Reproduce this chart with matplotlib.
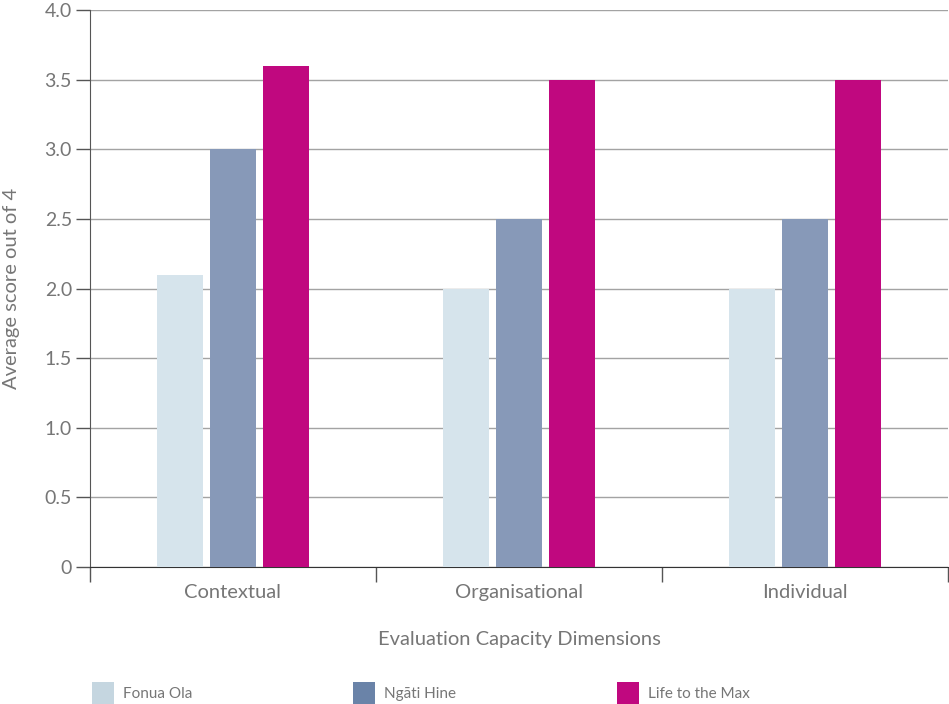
import matplotlib
matplotlib.use('Agg')
import matplotlib.pyplot as plt
from matplotlib.patches import Patch
import numpy as np

categories = ['Contextual', 'Organisational', 'Individual']
series_names = ['Fonua Ola', 'Ngāti Hine', 'Life to the Max']
fonua_ola = [2.1, 2.0, 2.0]
ngati_hine = [3.0, 2.5, 2.5]
life_to_the_max = [3.6, 3.5, 3.5]
y_ticks = [0, 0.5, 1.0, 1.5, 2.0, 2.5, 3.0, 3.5, 4.0]
y_tick_labels = ['0', '0.5', '1.0', '1.5', '2.0', '2.5', '3.0', '3.5', '4.0']

bar_colours = ['#d6e4ec', '#8799b8', '#c0087f']
legend_colours = ['#c5d6e0', '#6a83a8', '#c0087f']
text_grey = '#767676'

plt.rcParams['font.family'] = ['Lato', 'DejaVu Sans']
plt.rcParams['font.weight'] = 'normal'

fig = plt.figure(figsize=(9.49, 7.04), dpi=100)
ax = fig.add_axes([90 / 949, 137 / 704, 858 / 949, 557 / 704])

x = np.arange(len(categories))
width = 0.161
offset = 0.185
values = [fonua_ola, ngati_hine, life_to_the_max]
for i, vals in enumerate(values):
    ax.bar(x + (i - 1) * offset, vals, width, color=bar_colours[i], zorder=3)

ax.set_xlim(-0.5, 2.5)
ax.set_ylim(0, 4.0)
ax.set_yticks(y_ticks)
ax.set_yticklabels(y_tick_labels)
ax.set_xticks(x)
ax.set_xticklabels(categories)
ax.set_xticks([-0.5, 0.5, 1.5, 2.5], minor=True)

ax.grid(axis='y', color='#a3a3a3', linewidth=1.0, zorder=0)
for s in ['top', 'right']:
    ax.spines[s].set_visible(False)
ax.spines['left'].set_color('#555555')
ax.spines['bottom'].set_color('#333333')

ax.tick_params(axis='y', length=10, width=1, color='#555555', labelsize=14,
               labelcolor=text_grey, pad=3)
ax.tick_params(axis='x', which='major', length=0, labelsize=14.5,
               labelcolor=text_grey, pad=12)
ax.tick_params(axis='x', which='minor', length=11, width=1, color='#555555')

ax.set_xlabel('Evaluation Capacity Dimensions', fontsize=14.5, color=text_grey, labelpad=22)
ax.set_ylabel('Average score out of 4', fontsize=14.5, color=text_grey, labelpad=18)

handles = [Patch(facecolor=c, edgecolor='none') for c in legend_colours]
fig.legend(handles, series_names, loc='lower left', bbox_to_anchor=(78 / 949, -14 / 704),
           ncol=3, frameon=False, fontsize=11, labelcolor=text_grey,
           handlelength=1.45, handleheight=1.9, handletextpad=0.6, columnspacing=10.5)

fig.savefig('out.png', dpi=100)
